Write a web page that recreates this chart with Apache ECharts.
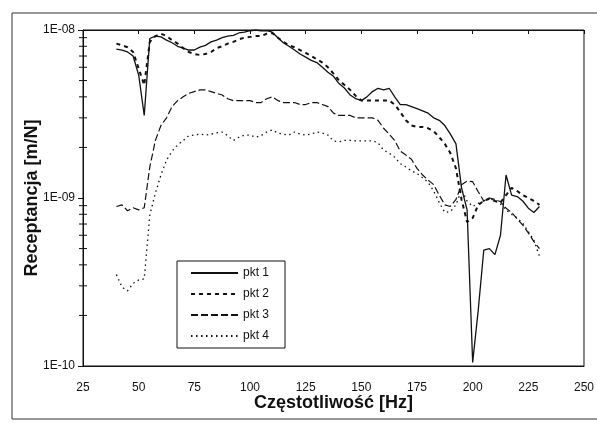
<!DOCTYPE html>
<html>
<head>
<meta charset="utf-8">
<title>Receptancja</title>
<script src="https://cdn.jsdelivr.net/npm/echarts@6/dist/echarts.min.js"></script>
<style>
  html, body { margin: 0; padding: 0; background: #fff; }
  #chart { width: 597px; height: 423px; }
</style>
</head>
<body>
<div id="chart"></div>
<script>
// czestotliwosc [Hz]
var freq = [40, 42.5, 45, 47.5, 50, 52.5, 55, 57.5, 60, 62.5,
  65, 67.5, 70, 72.5, 75, 77.5, 80, 82.5, 85, 87.5,
  90, 92.5, 95, 97.5, 100, 102.5, 105, 107.5, 110, 112.5,
  115, 117.5, 120, 122.5, 125, 127.5, 130, 132.5, 135, 137.5,
  140, 142.5, 145, 147.5, 150, 152.5, 155, 157.5, 160, 162.5,
  165, 167.5, 170, 172.5, 175, 177.5, 180, 182.5, 185, 187.5,
  190, 192.5, 195, 197.5, 200, 202.5, 205, 207.5, 210, 212.5,
  215, 217.5, 220, 222.5, 225, 227.5, 230]

// receptancja, w 1E-09 m/N
var pkt1 = [7.7, 7.6, 7.4, 7.0, 5.4, 3.1, 8.9, 9.2, 9.1, 8.7,
  8.4, 8.0, 7.8, 7.6, 7.6, 7.9, 8.1, 8.5, 8.7, 9.0,
  9.2, 9.3, 9.6, 9.7, 9.9, 10.0, 9.9, 9.9, 9.7, 9.0,
  8.4, 8.0, 7.6, 7.2, 6.9, 6.6, 6.4, 6.0, 5.6, 5.3,
  4.8, 4.5, 4.1, 3.9, 3.8, 4.0, 4.3, 4.5, 4.4, 4.5,
  4.0, 3.6, 3.6, 3.5, 3.4, 3.3, 3.2, 3.0, 2.9, 2.7,
  2.4, 2.1, 1.15, 0.85, 0.105, 0.215, 0.49, 0.50, 0.46, 0.60,
  1.37, 1.04, 1.02, 0.96, 0.87, 0.82, 0.89]
var pkt2 = [8.3, 8.1, 7.9, 7.4, 5.9, 4.7, 8.5, 9.2, 9.5, 9.2,
  8.7, 8.3, 7.8, 7.4, 7.2, 7.1, 7.2, 7.4, 7.8, 8.0,
  8.3, 8.5, 8.8, 9.0, 9.1, 9.2, 9.2, 9.5, 9.6, 9.0,
  8.5, 8.1, 7.9, 7.6, 7.3, 7.0, 6.7, 6.4, 6.0, 5.5,
  5.0, 4.7, 4.4, 4.05, 3.8, 3.8, 3.8, 3.8, 3.8, 3.8,
  3.6, 3.25, 2.9, 2.7, 2.65, 2.65, 2.6, 2.5, 2.3, 2.1,
  1.85, 1.5, 0.98, 0.72, 0.76, 0.91, 0.96, 0.99, 0.96, 0.94,
  1.04, 1.15, 1.1, 1.04, 1.0, 0.96, 0.91]
var pkt3 = [0.89, 0.91, 0.84, 0.875, 0.85, 0.875, 1.53, 2.2, 2.7, 3.0,
  3.5, 3.8, 4.0, 4.2, 4.3, 4.4, 4.4, 4.3, 4.2, 4.1,
  3.9, 3.8, 3.8, 3.8, 3.8, 3.7, 3.7, 3.9, 4.0, 3.8,
  3.7, 3.7, 3.7, 3.6, 3.6, 3.7, 3.7, 3.6, 3.5, 3.2,
  3.1, 3.1, 3.1, 3.0, 3.0, 3.0, 3.0, 2.9, 2.6, 2.4,
  2.2, 1.9, 1.8, 1.7, 1.5, 1.37, 1.28, 1.2, 1.04, 0.91,
  0.89, 0.98, 1.2, 1.26, 1.25, 1.09, 0.96, 1.0, 0.98, 0.95,
  0.87, 0.82, 0.75, 0.69, 0.62, 0.55, 0.50]
var pkt4 = [0.35, 0.295, 0.28, 0.31, 0.325, 0.33, 0.79, 1.07, 1.37, 1.68,
  1.9, 2.07, 2.2, 2.35, 2.37, 2.4, 2.37, 2.4, 2.44, 2.47,
  2.35, 2.2, 2.3, 2.37, 2.37, 2.3, 2.35, 2.47, 2.54, 2.44,
  2.4, 2.37, 2.47, 2.4, 2.37, 2.4, 2.47, 2.44, 2.37, 2.19,
  2.16, 2.2, 2.2, 2.19, 2.19, 2.19, 2.19, 2.13, 1.93, 1.85,
  1.75, 1.6, 1.53, 1.45, 1.4, 1.32, 1.24, 1.1, 0.94, 0.82,
  0.83, 0.91, 1.12, 0.96, 0.89, 0.93, 0.96, 1.0, 0.96, 0.92,
  0.85, 0.8, 0.76, 0.71, 0.63, 0.56, 0.45]

var names = ['pkt 1', 'pkt 2', 'pkt 3', 'pkt 4']
// podzialka pomocnicza osi Y
var minorTicks = [2e-10, 3e-10, 4e-10, 5e-10, 6e-10, 7e-10, 8e-10, 9e-10,
  2e-9, 3e-9, 4e-9, 5e-9, 6e-9, 7e-9, 8e-9, 9e-9]

function pairs(vals) {
  var out = []
  for (var i = 0; i < freq.length; i++) {
    out.push([freq[i], vals[i] * 1e-9])
  }
  return out
}

function lineSeries(name, vals, type, width) {
  return {
    name: name,
    type: 'line',
    data: pairs(vals),
    symbol: 'none',
    silent: true,
    color: '#111',
    itemStyle: { color: '#111' },
    lineStyle: { color: '#111', width: width, type: type }
  }
}

var font = 'Liberation Sans, Arial, sans-serif'
var chart = echarts.init(document.getElementById('chart'), null, { renderer: 'canvas' })

chart.setOption({
  backgroundColor: '#fff',
  animation: false,
  textStyle: { fontFamily: font, color: '#111' },
  graphic: [{
    type: 'rect',
    shape: { x: 12, y: 13, width: 600, height: 406 },
    style: { fill: 'none', stroke: '#333', lineWidth: 1 },
    silent: true
  }],
  grid: {
    left: 83,
    right: 9,
    top: 30,
    bottom: 57,
    show: true,
    borderColor: '#111',
    borderWidth: 1
  },
  legend: {
    orient: 'vertical',
    left: 177,
    top: 261,
    data: names,
    itemWidth: 47,
    itemHeight: 12,
    itemGap: 9,
    padding: [6, 16, 6, 13],
    borderColor: '#111',
    borderWidth: 1,
    backgroundColor: '#fff',
    itemStyle: { opacity: 0 },
    textStyle: { fontFamily: font, fontSize: 12, color: '#111' }
  },
  xAxis: [{
    type: 'value',
    min: 25,
    max: 250,
    interval: 25,
    name: 'Częstotliwość [Hz]',
    nameLocation: 'middle',
    nameGap: 28,
    nameMoveOverlap: false,
    nameTextStyle: { fontFamily: font, fontSize: 18, fontWeight: 'bold', color: '#111' },
    axisLine: { show: true, lineStyle: { color: '#111' } },
    axisTick: { show: false },
    splitLine: { show: false },
    axisLabel: { margin: 16, fontSize: 12, color: '#111', fontFamily: font }
  }, {
    type: 'value',
    position: 'top',
    min: 25,
    max: 250,
    interval: 25,
    axisLine: { show: true, lineStyle: { color: '#111' } },
    axisTick: { show: true, inside: true, length: 4, lineStyle: { color: '#111' } },
    axisLabel: { show: false },
    splitLine: { show: false }
  }],
  yAxis: {
    type: 'log',
    logBase: 10,
    min: 1e-10,
    max: 1e-8,
    name: 'Receptancja [m/N]',
    nameLocation: 'middle',
    nameGap: 42,
    nameMoveOverlap: false,
    nameTextStyle: { fontFamily: font, fontSize: 18, fontWeight: 'bold', color: '#111' },
    axisLine: { show: true, lineStyle: { color: '#111' } },
    axisTick: { show: true, length: 5, lineStyle: { color: '#111' } },
    splitLine: { show: false },
    axisLabel: {
      margin: 8,
      fontSize: 12,
      color: '#111',
      fontFamily: font,
      formatter: function(v) {
        var e = Math.round(Math.log10(v))
        var s = String(Math.abs(e))
        if (s.length < 2) s = '0' + s
        return '1E' + (e < 0 ? '-' : '+') + s
      }
    }
  },
  series: [
    lineSeries('pkt 1', pkt1, 'solid', 1.3),
    lineSeries('pkt 2', pkt2, [4, 4], 2),
    lineSeries('pkt 3', pkt3, [7, 3], 1.2),
    lineSeries('pkt 4', pkt4, [1.5, 3.5], 1.3),
    {
      // kreski podzialki logarytmicznej
      type: 'custom',
      silent: true,
      clip: false,
      data: minorTicks.map(function(v) { return [25, v] }),
      renderItem: function(params, api) {
        var p = api.coord([api.value(0), api.value(1)])
        return {
          type: 'line',
          shape: { x1: p[0] - 4, y1: p[1], x2: p[0] + 4, y2: p[1] },
          style: { stroke: '#111', lineWidth: 1 }
        }
      }
    }
  ]
})
</script>
</body>
</html>
